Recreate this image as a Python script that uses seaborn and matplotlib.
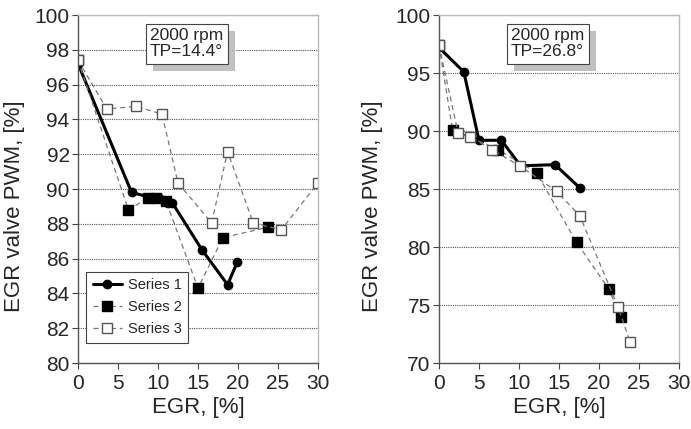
import numpy as np
import pandas as pd
import seaborn as sns
import matplotlib
matplotlib.use("Agg")
import matplotlib.pyplot as plt
import matplotlib.patheffects as pe

# Left panel: 2000 rpm, TP=14.4 deg
left_s1_x = [0, 6.7, 9.3, 10.1, 11.2, 11.8, 15.5, 18.7, 19.9]
left_s1_y = [97.2, 89.8, 89.5, 89.5, 89.2, 89.2, 86.5, 84.5, 85.8]
left_s2_x = [0, 6.3, 8.8, 9.7, 11.0, 15.0, 18.1, 23.7]
left_s2_y = [97.4, 88.8, 89.5, 89.5, 89.3, 84.3, 87.2, 87.8]
left_s3_x = [0, 3.6, 7.3, 10.5, 12.5, 16.7, 18.7, 21.9, 25.4, 30]
left_s3_y = [97.4, 94.6, 94.75, 94.3, 90.35, 88.05, 92.15, 88.05, 87.65, 90.35]

# Right panel: 2000 rpm, TP=26.8 deg
right_s1_x = [0, 3.1, 5.0, 7.8, 10.2, 14.5, 17.6]
right_s1_y = [97.2, 95.1, 89.2, 89.2, 87.0, 87.1, 85.1]
right_s2_x = [0, 1.7, 7.4, 12.2, 17.2, 21.2, 22.7]
right_s2_y = [97.4, 90.1, 88.4, 86.4, 80.4, 76.4, 74.0]
right_s3_x = [0, 2.4, 3.9, 6.6, 10.1, 14.7, 17.6, 22.4, 23.9]
right_s3_y = [97.4, 89.8, 89.5, 88.4, 87.0, 84.8, 82.7, 74.8, 71.8]

series_names = ["Series 1", "Series 2", "Series 3"]
panel_notes = ["2000 rpm\nTP=14.4°", "2000 rpm\nTP=26.8°"]

sns.set_style("white")
plt.rcParams["font.family"] = ["Liberation Sans", "DejaVu Sans"]

fig = plt.figure(figsize=(6.91, 4.29), dpi=100)
ax1 = fig.add_axes([0.1129, 0.1538, 0.3473, 0.8112])
ax2 = fig.add_axes([0.6353, 0.1538, 0.3473, 0.8112])

styles = [
    dict(color="black", lw=2.2, ls="-", marker="o", ms=6, mfc="black", mec="black"),
    dict(color="#777777", lw=0.9, ls=(0, (4, 3)), marker="s", ms=7, mfc="black", mec="black"),
    dict(color="#777777", lw=0.9, ls=(0, (4, 3)), marker="s", ms=7, mfc="white", mec="#555555"),
]

panels = [
    (ax1, [(left_s1_x, left_s1_y), (left_s2_x, left_s2_y), (left_s3_x, left_s3_y)]),
    (ax2, [(right_s1_x, right_s1_y), (right_s2_x, right_s2_y), (right_s3_x, right_s3_y)]),
]

for ax, data in panels:
    for (x, y), name, st in zip(data, series_names, styles):
        df = pd.DataFrame({"x": x, "y": y})
        sns.lineplot(data=df, x="x", y="y", sort=False, ax=ax, label=name,
                     color=st["color"], linewidth=st["lw"], linestyle=st["ls"],
                     marker=st["marker"], markersize=st["ms"],
                     markerfacecolor=st["mfc"], markeredgecolor=st["mec"],
                     markeredgewidth=1.0)

ax1.set_ylim(80, 100)
ax1.set_yticks(np.arange(80, 101, 2))
ax2.set_ylim(70, 100)
ax2.set_yticks(np.arange(70, 101, 5))

for ax, note in zip([ax1, ax2], panel_notes):
    ax.set_xlim(0, 30)
    ax.set_xticks(np.arange(0, 31, 5))
    ax.set_xlabel("EGR, [%]", fontsize=16, labelpad=3)
    ax.set_ylabel("EGR valve PWM, [%]", fontsize=16)
    ax.tick_params(axis="both", labelsize=15, direction="out", length=4,
                   width=0.8, color="#444444", left=True, bottom=True, pad=2)
    ax.tick_params(axis="x", pad=4)
    ax.yaxis.grid(True, color="#555555", linestyle=(0, (1, 1)), linewidth=0.8)
    ax.xaxis.grid(False)
    for side in ["left", "bottom"]:
        ax.spines[side].set_color("#555555")
        ax.spines[side].set_linewidth(1.0)
    for side in ["top", "right"]:
        ax.spines[side].set_color("#bbbbbb")
        ax.spines[side].set_linewidth(1.0)
    t = ax.text(0.30, 0.962, note, transform=ax.transAxes, fontsize=12.5,
                va="top", ha="left", linespacing=1.1, zorder=10,
                bbox=dict(boxstyle="square,pad=0.25", fc="white", ec="#444444", lw=0.8))
    t.get_bbox_patch().set_path_effects([
        pe.SimplePatchShadow(offset=(5, -5), shadow_rgbFace="#bbbbbb", alpha=0.9),
        pe.Normal()])

ax1.yaxis.set_label_coords(-0.22, 0.45)
ax2.yaxis.set_label_coords(-0.235, 0.45)

leg = ax1.legend(loc="lower left", bbox_to_anchor=(0.015, 0.045), fontsize=10.5,
                 frameon=True, fancybox=False, edgecolor="#444444", framealpha=1,
                 handlelength=2.0, borderpad=0.45, labelspacing=0.55, handletextpad=0.4,
                 borderaxespad=0.3)
leg.get_frame().set_linewidth(0.8)
leg.set_zorder(20)
ax2.get_legend().remove()

fig.savefig("out.png", dpi=100)
